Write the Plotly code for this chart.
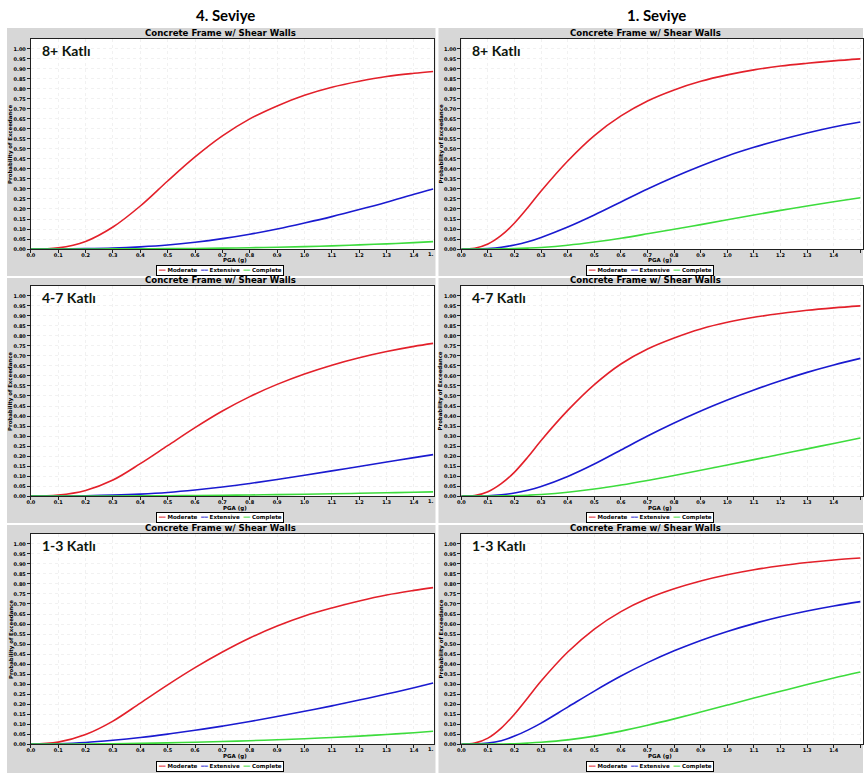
import plotly.graph_objects as go

# ---------------- data ----------------
pga_left = [0.0, 0.1, 0.2, 0.3, 0.4, 0.5, 0.6, 0.7, 0.8, 0.9, 1.0, 1.1, 1.2, 1.3, 1.4, 1.47]
pga_right = [0.0, 0.05, 0.1, 0.15, 0.2, 0.25, 0.3, 0.4, 0.5, 0.6, 0.7, 0.8, 0.9, 1.0, 1.1, 1.2, 1.3, 1.4, 1.5]

# 4. Seviye (left column)
l8_mod = [0, 0.006, 0.038, 0.11, 0.215, 0.34, 0.46, 0.565, 0.65, 0.715, 0.768, 0.808, 0.838, 0.862, 0.878, 0.887]
l8_ext = [0, 0.0005, 0.002, 0.005, 0.011, 0.02, 0.034, 0.052, 0.074, 0.10, 0.13, 0.162, 0.197, 0.234, 0.274, 0.30]
l8_com = [0, 0.0, 0.0002, 0.0006, 0.0012, 0.002, 0.003, 0.0045, 0.0065, 0.009, 0.012, 0.016, 0.021, 0.026, 0.032, 0.037]

l47_mod = [0, 0.005, 0.028, 0.08, 0.162, 0.252, 0.342, 0.425, 0.497, 0.558, 0.61, 0.654, 0.691, 0.722, 0.748, 0.763]
l47_ext = [0, 0.0003, 0.002, 0.005, 0.01, 0.018, 0.03, 0.045, 0.063, 0.083, 0.104, 0.126, 0.148, 0.17, 0.192, 0.207]
l47_com = [0, 0.0, 0.0001, 0.0004, 0.0009, 0.0016, 0.0026, 0.0039, 0.0055, 0.0073, 0.0093, 0.0115, 0.014, 0.0165, 0.019, 0.021]

l13_mod = [0, 0.01, 0.048, 0.115, 0.205, 0.296, 0.382, 0.46, 0.53, 0.59, 0.64, 0.68, 0.715, 0.745, 0.768, 0.782]
l13_ext = [0, 0.002, 0.008, 0.019, 0.033, 0.05, 0.069, 0.09, 0.113, 0.138, 0.164, 0.191, 0.22, 0.25, 0.282, 0.305]
l13_com = [0, 0.0, 0.0008, 0.002, 0.004, 0.0065, 0.0095, 0.013, 0.017, 0.022, 0.027, 0.033, 0.04, 0.048, 0.057, 0.064]

# 1. Seviye (right column)
r8_mod = [0, 0.004, 0.025, 0.068, 0.13, 0.207, 0.29, 0.44, 0.567, 0.665, 0.74, 0.795, 0.838, 0.87, 0.895, 0.914, 0.928, 0.94, 0.95]
r8_ext = [0, 0.0003, 0.003, 0.009, 0.02, 0.036, 0.058, 0.11, 0.17, 0.235, 0.3, 0.36, 0.415, 0.465, 0.508, 0.546, 0.58, 0.61, 0.635]
r8_com = [0, 0.0, 0.0002, 0.0008, 0.002, 0.0045, 0.008, 0.019, 0.035, 0.054, 0.076, 0.099, 0.122, 0.146, 0.17, 0.193, 0.215, 0.236, 0.256]

r47_mod = [0, 0.003, 0.022, 0.062, 0.12, 0.195, 0.278, 0.428, 0.557, 0.66, 0.735, 0.79, 0.835, 0.868, 0.893, 0.912, 0.928, 0.94, 0.95]
r47_ext = [0, 0.0002, 0.002, 0.007, 0.015, 0.029, 0.048, 0.098, 0.16, 0.23, 0.3, 0.365, 0.425, 0.48, 0.53, 0.576, 0.618, 0.655, 0.688]
r47_com = [0, 0.0, 0.0002, 0.0008, 0.002, 0.0045, 0.008, 0.019, 0.035, 0.055, 0.078, 0.103, 0.129, 0.155, 0.182, 0.209, 0.236, 0.263, 0.29]

r13_mod = [0, 0.005, 0.03, 0.08, 0.15, 0.232, 0.315, 0.46, 0.575, 0.662, 0.727, 0.776, 0.815, 0.846, 0.871, 0.891, 0.907, 0.92, 0.93]
r13_ext = [0, 0.0006, 0.005, 0.017, 0.04, 0.07, 0.105, 0.185, 0.265, 0.34, 0.407, 0.466, 0.518, 0.563, 0.602, 0.636, 0.665, 0.69, 0.712]
r13_com = [0, 0.0, 0.0002, 0.0008, 0.002, 0.005, 0.009, 0.021, 0.04, 0.065, 0.094, 0.126, 0.16, 0.195, 0.23, 0.264, 0.298, 0.33, 0.36]

y_ticks = [i * 0.05 for i in range(21)]
x_ticks = [i * 0.1 for i in range(16)]

column_titles = ["4. Seviye", "1. Seviye"]
row_labels = ["8+ Katlı", "4-7 Katlı", "1-3 Katlı"]
panel_title = "Concrete Frame w/ Shear Walls"
series_names = ["Moderate", "Extensive", "Complete"]
series_colors = ["#e3202a", "#1a1ad0", "#3ddc3d"]

# ---------------- layout geometry (pixels) ----------------
W, H = 864, 779
def fx(p):
    return p / W
def fy(p):
    return 1 - p / H

col_plot_x = [(27, 433), (460, 864)]
col_bg_x = [(3, 434), (437, 864)]
col_range = [[0, 1.475], [0, 1.51]]
col_header_x = [223, 656]
col_title_x = [218, 645]
col_legend_x = [217, 650]
col_pga_x = [232, 660]
row_plot_y = [(39, 250), (287, 498), (536, 747)]
row_bg_y = [(28, 277), (279, 525), (527, 776)]

panels = [
    (0, 0, pga_left, [l8_mod, l8_ext, l8_com]),
    (1, 0, pga_right, [r8_mod, r8_ext, r8_com]),
    (0, 1, pga_left, [l47_mod, l47_ext, l47_com]),
    (1, 1, pga_right, [r47_mod, r47_ext, r47_com]),
    (0, 2, pga_left, [l13_mod, l13_ext, l13_com]),
    (1, 2, pga_right, [r13_mod, r13_ext, r13_com]),
]

fig = go.Figure()
shapes = []
annotations = []
tick_font = dict(family="DejaVu Sans", size=5, color="black", weight="bold")
small_font = dict(family="DejaVu Sans", size=5.5, color="black", weight="bold")

for i, (c, r, xs, ys_list) in enumerate(panels):
    n = i + 1
    xa = "x" if n == 1 else f"x{n}"
    ya = "y" if n == 1 else f"y{n}"
    for name, color, ys in zip(series_names, series_colors, ys_list):
        fig.add_trace(go.Scatter(
            x=xs, y=ys, mode="lines", name=name,
            line=dict(color=color, width=1.6, shape="spline", smoothing=1.0),
            xaxis=xa, yaxis=ya, showlegend=False, hoverinfo="skip"))
    x0, x1 = col_plot_x[c]
    y0, y1 = row_plot_y[r]
    axis_common = dict(showline=True, linecolor="#202020", linewidth=1, mirror=True,
                       ticks="outside", ticklen=3, tickcolor="#202020", tickwidth=1,
                       tickfont=tick_font, showgrid=True, gridcolor="#f1f1f1",
                       griddash="dot", gridwidth=1, zeroline=False, fixedrange=True)
    fig.layout[f"xaxis{'' if n == 1 else n}"] = dict(
        domain=[fx(x0), fx(x1)], range=col_range[c], tickvals=x_ticks,
        tickformat=".1f", anchor=ya, ticklabelstandoff=-2, **axis_common)
    fig.layout[f"yaxis{'' if n == 1 else n}"] = dict(
        domain=[fy(y1), fy(y0)], range=[0, 1.05], tickvals=y_ticks,
        tickformat=".2f", anchor=xa, **axis_common)

    bx0, bx1 = col_bg_x[c]
    by0, by1 = row_bg_y[r]
    shapes.append(dict(type="rect", xref="paper", yref="paper",
                       x0=fx(bx0), x1=fx(bx1), y0=fy(by1), y1=fy(by0),
                       fillcolor="#d7d7d7", line=dict(width=0), layer="below"))
    shapes.append(dict(type="rect", xref="paper", yref="paper",
                       x0=fx(x0), x1=fx(x1), y0=fy(y1), y1=fy(y0),
                       fillcolor="white", line=dict(width=0), layer="below"))
    # panel title
    annotations.append(dict(text=panel_title, xref="paper", yref="paper",
                            x=fx(col_title_x[c]), y=fy(y0 - 6), showarrow=False,
                            font=dict(family="DejaVu Sans", size=8.6, color="black", weight="bold"),
                            xanchor="center", yanchor="middle"))
    # story label
    annotations.append(dict(text=row_labels[r], xref="paper", yref="paper",
                            x=fx(x0 + 9), y=fy(y0 + 12), showarrow=False,
                            font=dict(family="Lato", size=14, color="#0d160d", weight="bold"),
                            xanchor="left", yanchor="middle"))
    # x axis title
    annotations.append(dict(text="PGA (g)", xref="paper", yref="paper",
                            x=fx(col_pga_x[c]), y=fy(y1 + 12), showarrow=False,
                            font=small_font, xanchor="center", yanchor="middle"))
    # y axis title
    annotations.append(dict(text="Probability of Exceedance", xref="paper", yref="paper",
                            x=fx(x0 - 20), y=fy((y0 + y1) / 2), showarrow=False,
                            textangle=-90, font=dict(family="DejaVu Sans", size=5.4, color="black", weight="bold"),
                            xanchor="center", yanchor="middle"))
    # legend box
    leg = "  ".join(
        f'<span style="color:{col}">━━</span> {nm}' for nm, col in zip(series_names, series_colors))
    annotations.append(dict(text=leg, xref="paper", yref="paper",
                            x=fx(col_legend_x[c]), y=fy(y1 + 22), showarrow=False,
                            font=small_font, bgcolor="white", bordercolor="black",
                            borderwidth=1, borderpad=1, xanchor="center", yanchor="middle"))
    if c == 0:
        annotations.append(dict(text="1.", xref="paper", yref="paper",
                                x=fx(434), y=fy(y1 + 4.5), showarrow=False,
                                font=tick_font, xanchor="right", yanchor="middle"))

for c, t in enumerate(column_titles):
    annotations.append(dict(text=t, xref="paper", yref="paper",
                            x=fx(col_header_x[c]), y=fy(15), showarrow=False,
                            font=dict(family="Lato", size=15, color="black", weight="bold"),
                            xanchor="center", yanchor="middle"))

fig.update_layout(
    width=W, height=H, margin=dict(l=0, r=0, t=0, b=0),
    paper_bgcolor="white", plot_bgcolor="rgba(0,0,0,0)",
    shapes=shapes, annotations=annotations, showlegend=False)

fig.write_html("out.html",
               config={"displayModeBar": False, "staticPlot": True},
               post_script="document.body.style.margin='0px';"
                           "document.documentElement.style.overflow='hidden';")
